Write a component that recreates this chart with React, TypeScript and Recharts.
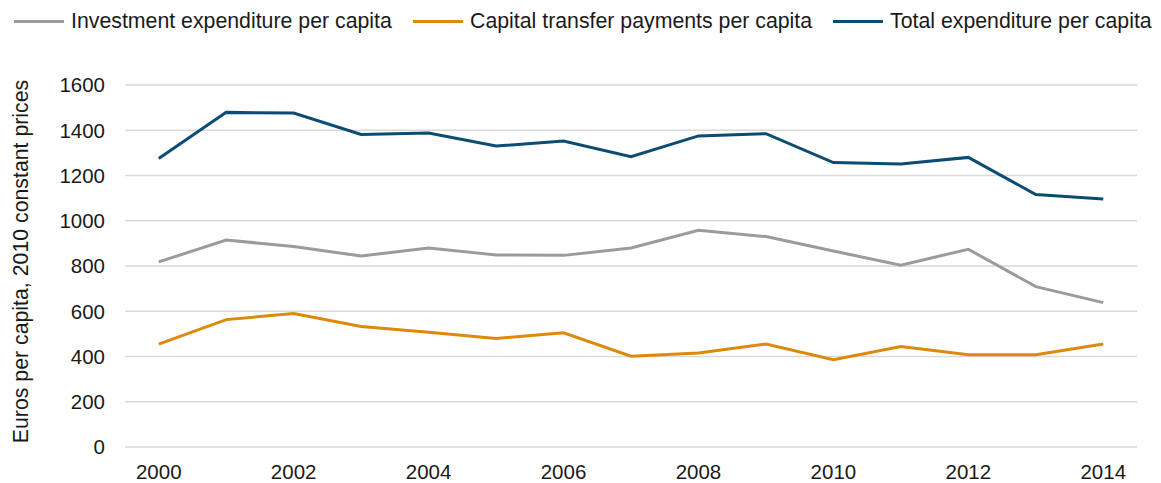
import React from "react";
import { LineChart, Line, XAxis, YAxis, CartesianGrid } from "recharts";

const years = [2000, 2001, 2002, 2003, 2004, 2005, 2006, 2007, 2008, 2009, 2010, 2011, 2012, 2013, 2014];
const investment = [818, 915, 886, 844, 880, 849, 847, 880, 958, 930, 866, 804, 874, 709, 638];
const capitalTransfer = [455, 563, 590, 533, 507, 480, 505, 401, 415, 455, 386, 444, 408, 408, 455];
const totalExpenditure = [1275, 1479, 1476, 1381, 1388, 1330, 1352, 1283, 1375, 1385, 1257, 1251, 1280, 1116, 1096];
const xTicks = [2000, 2002, 2004, 2006, 2008, 2010, 2012, 2014];
const yTicks = [0, 200, 400, 600, 800, 1000, 1200, 1400, 1600];

const series = [
  { key: "investment", name: "Investment expenditure per capita", color: "#9B9B9B" },
  { key: "capital", name: "Capital transfer payments per capita", color: "#DD8A0C" },
  { key: "total", name: "Total expenditure per capita", color: "#0B4C72" },
];
const legendX = [14, 413, 833];

const data = years.map((y, i) => ({
  year: y,
  investment: investment[i],
  capital: capitalTransfer[i],
  total: totalExpenditure[i],
}));

const FONT = "'Liberation Sans', Arial, sans-serif";

const YLabel = (props: any) => {
  const vb = props.viewBox || { x: 0, y: 0, width: 0, height: 0 };
  const cx = 21;
  const cy = vb.y + vb.height / 2 - 4.5;
  return (
    <text
      x={cx}
      y={cy}
      transform={`rotate(-90 ${cx} ${cy})`}
      textAnchor="middle"
      dominantBaseline="central"
      fontSize={21.3}
      fill="#1a1a1a"
      fontFamily={FONT}
    >
      Euros per capita, 2010 constant prices
    </text>
  );
};

export default function App() {
  return (
    <div style={{ position: "absolute", left: 0, top: 0, width: 1161, height: 483, background: "#fff", fontFamily: FONT }}>
      {series.map((s, i) => (
        <div
          key={s.key}
          style={{ position: "absolute", left: legendX[i], top: 8, display: "flex", alignItems: "center", height: 26, whiteSpace: "nowrap" }}
        >
          <div style={{ width: 50, height: 3, background: s.color, marginRight: 7 }} />
          <span style={{ fontSize: 21.3, color: "#1a1a1a" }}>{s.name}</span>
        </div>
      ))}
      <LineChart width={1161} height={483} data={data} margin={{ top: 85, right: 24, bottom: 0, left: 0 }}>
        <CartesianGrid vertical={false} stroke="#D9D9D9" strokeWidth={1.4} />
        <XAxis
          dataKey="year"
          type="number"
          domain={[1999.5, 2014.5]}
          ticks={xTicks}
          axisLine={false}
          tickLine={false}
          tickSize={0}
          tickMargin={17}
          height={36}
          interval={0}
          tick={{ fontSize: 20.5, fill: "#1a1a1a", fontFamily: FONT }}
        />
        <YAxis
          width={125}
          domain={[0, 1600]}
          ticks={yTicks}
          axisLine={false}
          tickLine={false}
          tickSize={0}
          tickMargin={20}
          interval={0}
          tick={{ fontSize: 20.5, fill: "#1a1a1a", fontFamily: FONT }}
          label={<YLabel />}
        />
        {series.map((s) => (
          <Line
            key={s.key}
            type="linear"
            dataKey={s.key}
            name={s.name}
            stroke={s.color}
            strokeWidth={3}
            dot={false}
            activeDot={false}
            isAnimationActive={false}
          />
        ))}
      </LineChart>
    </div>
  );
}
